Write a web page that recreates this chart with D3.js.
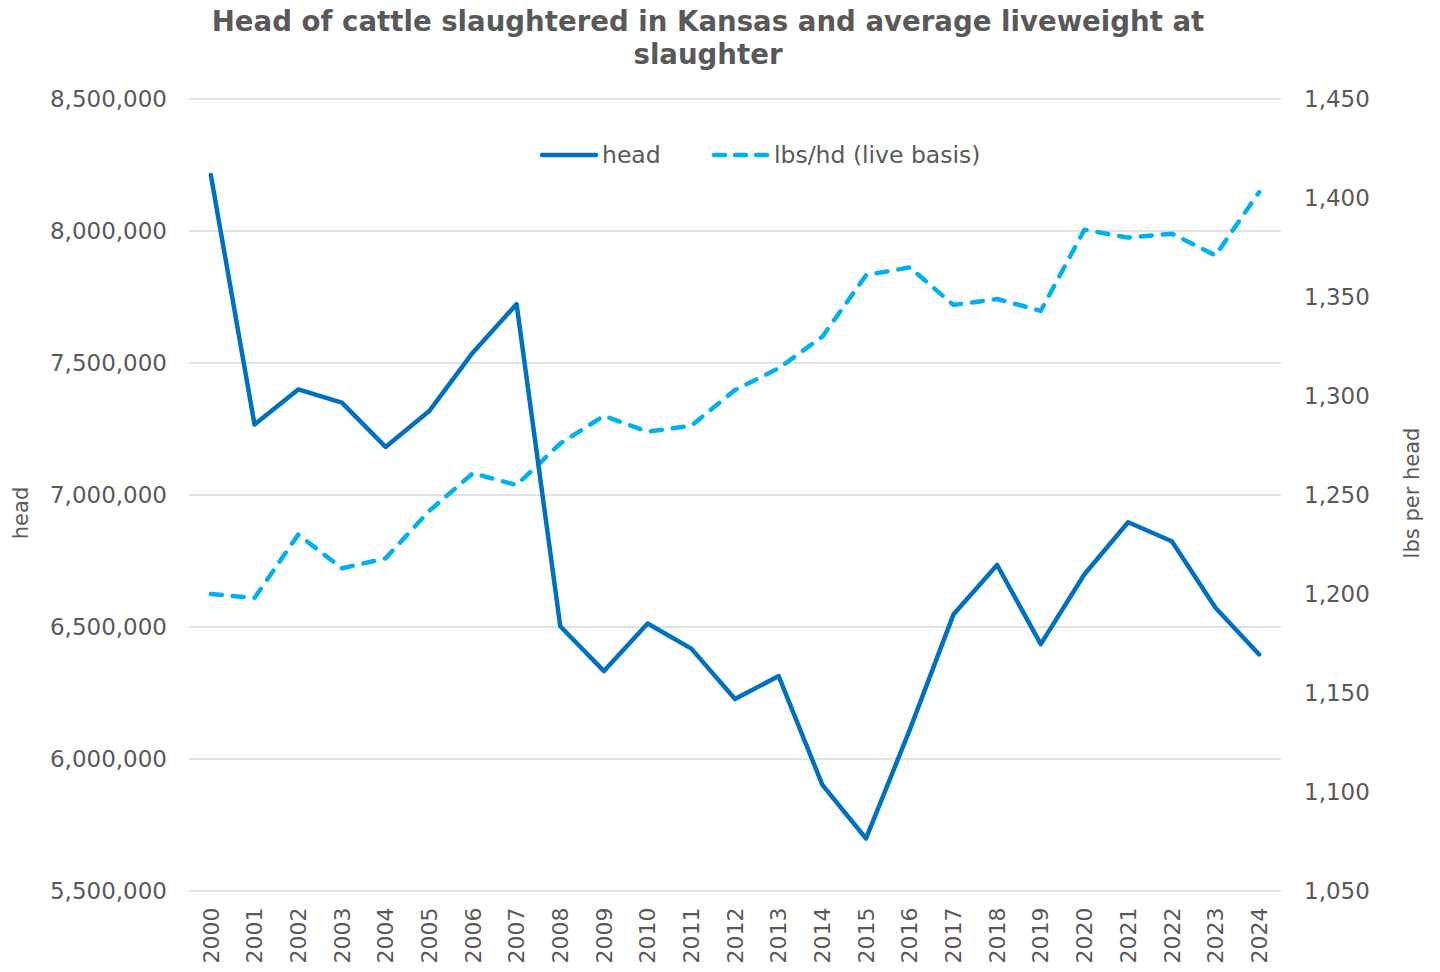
<!DOCTYPE html>
<html>
<head>
<meta charset="utf-8">
<script src="https://cdn.jsdelivr.net/npm/d3@7"></script>
<style>
  body { margin: 0; background: #fff; }
  text { font-family: Verdana, "DejaVu Sans", sans-serif; fill: #595959; }
</style>
</head>
<body>
<svg width="1440" height="972"></svg>
<script>
const years = ['2000','2001','2002','2003','2004','2005','2006','2007','2008','2009','2010','2011','2012',
  '2013','2014','2015','2016','2017','2018','2019','2020','2021','2022','2023','2024'];
const head = [8212000, 7267000, 7400000, 7350000, 7182000, 7318000, 7540000, 7723000, 6503000, 6333000,
  6513000, 6418000, 6227000, 6314000, 5902000, 5699000, 6110000, 6547000, 6735000, 6435000,
  6700000, 6897000, 6825000, 6573000, 6396000];
const lbsPerHead = [1200, 1198, 1230, 1213, 1218, 1242, 1261, 1255, 1276, 1290, 1282, 1285, 1303,
  1314, 1330, 1361, 1365, 1346, 1349, 1343, 1384, 1380, 1382, 1371, 1403];
const leftTicks = [5500000, 6000000, 6500000, 7000000, 7500000, 8000000, 8500000];
const rightTicks = [1050, 1100, 1150, 1200, 1250, 1300, 1350, 1400, 1450];

const svg = d3.select('svg');
const margin = { top: 99, right: 159, bottom: 81, left: 189 };
const width = +svg.attr('width');
const height = +svg.attr('height');
const innerW = width - margin.left - margin.right;
const innerH = height - margin.top - margin.bottom;

const headColor = '#0070C0';
const lbsColor = '#00B0F0';

const x = d3.scaleBand().domain(years).range([0, innerW]);
const yL = d3.scaleLinear().domain([5500000, 8500000]).range([innerH, 0]);
const yR = d3.scaleLinear().domain([1050, 1450]).range([innerH, 0]);

const g = svg.append('g').attr('transform', `translate(${margin.left},${margin.top})`);

// gridlines
g.append('g')
  .selectAll('line')
  .data(leftTicks)
  .join('line')
  .attr('x1', 0).attr('x2', innerW)
  .attr('y1', d => yL(d)).attr('y2', d => yL(d))
  .attr('stroke', '#d9d9d9').attr('stroke-width', 1.5);

// left axis
const leftAxis = g.append('g')
  .call(d3.axisLeft(yL).tickValues(leftTicks).tickFormat(d3.format(',')).tickSize(0).tickPadding(22));
leftAxis.select('.domain').remove();
leftAxis.selectAll('text').style('font-size', '23px').attr('fill', '#595959');

// right axis
const rightAxis = g.append('g')
  .attr('transform', `translate(${innerW},0)`)
  .call(d3.axisRight(yR).tickValues(rightTicks).tickFormat(d3.format(',')).tickSize(0).tickPadding(23));
rightAxis.select('.domain').remove();
rightAxis.selectAll('text').style('font-size', '23px').attr('fill', '#595959');

// bottom axis
const bottomAxis = g.append('g')
  .attr('transform', `translate(0,${innerH})`)
  .call(d3.axisBottom(x).tickSize(0).tickPadding(12));
bottomAxis.select('.domain').remove();
bottomAxis.selectAll('text')
  .style('font-size', '22px')
  .attr('fill', '#595959')
  .attr('transform', 'rotate(-90)')
  .attr('text-anchor', 'end')
  .attr('dx', '-0.75em')
  .attr('dy', '0.35em')
  .attr('y', 0);

// lines
const cx = d => x(d) + x.bandwidth() / 2;
const headLine = d3.line().x((d, i) => cx(years[i])).y(d => yL(d));
const lbsLine = d3.line().x((d, i) => cx(years[i])).y(d => yR(d));

g.append('path')
  .datum(lbsPerHead)
  .attr('d', lbsLine)
  .attr('fill', 'none')
  .attr('stroke', lbsColor)
  .attr('stroke-width', 4.5)
  .attr('stroke-linecap', 'round')
  .attr('stroke-linejoin', 'round')
  .attr('stroke-dasharray', '11,11');

g.append('path')
  .datum(head)
  .attr('d', headLine)
  .attr('fill', 'none')
  .attr('stroke', headColor)
  .attr('stroke-width', 4.5)
  .attr('stroke-linecap', 'round')
  .attr('stroke-linejoin', 'round');

// title
const title = svg.append('text')
  .attr('text-anchor', 'middle')
  .style('font-size', '27.6px')
  .style('font-weight', 'bold')
  .style('font-family', '"DejaVu Sans", sans-serif');
title.append('tspan').attr('x', 708).attr('y', 31).text('Head of cattle slaughtered in Kansas and average liveweight at');
title.append('tspan').attr('x', 708).attr('y', 64).text('slaughter');

// axis titles
svg.append('text')
  .attr('transform', 'translate(28,513) rotate(-90)')
  .attr('text-anchor', 'middle')
  .style('font-size', '21px')
  .text('head');
svg.append('text')
  .attr('transform', 'translate(1419,493) rotate(-90)')
  .attr('text-anchor', 'middle')
  .style('font-size', '21px')
  .text('lbs per head');

// legend
const legend = svg.append('g').attr('transform', 'translate(0,155)');
legend.append('line')
  .attr('x1', 542).attr('x2', 596).attr('y1', 0).attr('y2', 0)
  .attr('stroke', headColor).attr('stroke-width', 4.5).attr('stroke-linecap', 'round');
legend.append('text')
  .attr('x', 602).attr('y', 0).attr('dy', '0.35em')
  .style('font-size', '23.5px')
  .text('head');
legend.append('line')
  .attr('x1', 714).attr('x2', 767).attr('y1', 0).attr('y2', 0)
  .attr('stroke', lbsColor).attr('stroke-width', 4.5).attr('stroke-linecap', 'round')
  .attr('stroke-dasharray', '11,10');
legend.append('text')
  .attr('x', 774).attr('y', 0).attr('dy', '0.35em')
  .style('font-size', '23.5px')
  .text('lbs/hd (live basis)');
</script>
</body>
</html>
